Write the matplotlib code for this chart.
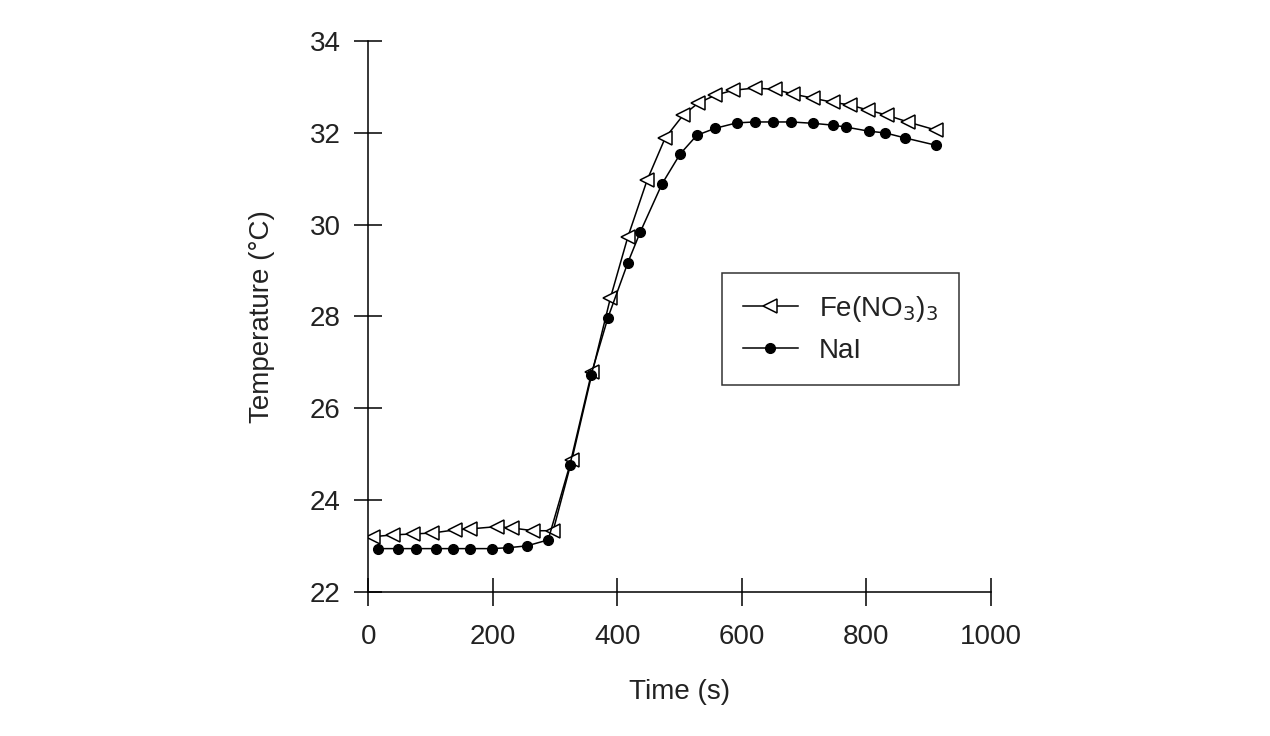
import matplotlib
matplotlib.use("Agg")
import matplotlib.pyplot as plt

plt.rcParams["font.family"] = ["Liberation Sans", "DejaVu Sans"]

# Fe(NO3)3 series
fe_time = [8, 40, 72, 103, 140, 164, 207, 231, 265, 297,
           327, 360, 389, 417, 448, 477, 506, 530, 557, 586,
           621, 653, 682, 714, 746, 774, 803, 833, 867, 913]
fe_temp = [23.20, 23.24, 23.26, 23.28, 23.35, 23.37, 23.42, 23.39, 23.33, 23.33,
           24.87, 26.79, 28.40, 29.73, 30.97, 31.89, 32.39, 32.65, 32.82, 32.93,
           32.98, 32.95, 32.85, 32.76, 32.67, 32.61, 32.50, 32.39, 32.24, 32.06]

# NaI series
na_time = [16, 48, 77, 108, 136, 164, 199, 225, 255, 289,
           324, 358, 385, 417, 437, 472, 501, 528, 557, 592,
           621, 650, 680, 715, 747, 767, 804, 831, 863, 913]
na_temp = [22.94, 22.94, 22.94, 22.94, 22.94, 22.94, 22.94, 22.96, 23.00, 23.13,
           24.77, 26.73, 27.97, 29.17, 29.84, 30.89, 31.54, 31.95, 32.10, 32.22,
           32.24, 32.24, 32.24, 32.21, 32.17, 32.13, 32.04, 32.00, 31.89, 31.73]

txt = "#222222"

fig = plt.figure(figsize=(12.7, 7.36), dpi=100)
ax = fig.add_axes([0.290, 0.196, 0.490, 0.748])

ax.plot(fe_time, fe_temp, color="black", lw=1.1, marker="<", ms=10.5,
        mfc="white", mec="black", mew=1.1, label="Fe(NO$_3$)$_3$")
ax.plot(na_time, na_temp, color="black", lw=1.1, marker="o", ms=7,
        mfc="black", mec="black", label="NaI")

ax.set_xlim(0, 1000)
ax.set_ylim(22, 34)
ax.set_xticks([0, 200, 400, 600, 800, 1000])
ax.set_yticks([22, 24, 26, 28, 30, 32, 34])

ax.spines["top"].set_visible(False)
ax.spines["right"].set_visible(False)
for s in ["left", "bottom"]:
    ax.spines[s].set_linewidth(1.1)
ax.tick_params(direction="inout", length=20, width=1.1, labelsize=20, labelcolor=txt)
ax.tick_params(axis="x", pad=13)
ax.tick_params(axis="y", pad=10)

ax.set_xlabel("Time (s)", fontsize=20, labelpad=21, color=txt)
ax.set_ylabel("Temperature (°C)", fontsize=20, labelpad=25, color=txt)

leg = ax.legend(loc="upper left", bbox_to_anchor=(0.568, 0.579), fontsize=20,
                frameon=True, fancybox=False, edgecolor="black", borderaxespad=0,
                handlelength=2.0, handletextpad=0.75, borderpad=0.75,
                labelspacing=0.5)
leg.get_frame().set_linewidth(1.1)
for t in leg.get_texts():
    t.set_color(txt)

fig.savefig("out.png", dpi=100)
